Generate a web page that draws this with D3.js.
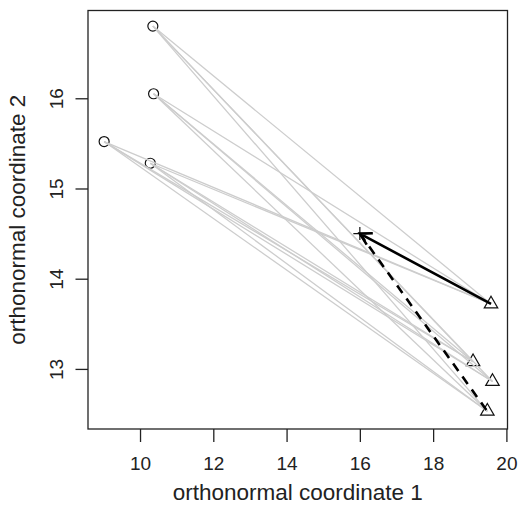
<!DOCTYPE html>
<html>
<head>
<meta charset="utf-8">
<script src="https://cdn.jsdelivr.net/npm/d3@7"></script>
<style>
  html, body { margin: 0; padding: 0; background: #fff; }
  svg { display: block; font-family: "Liberation Sans", Arial, Helvetica, sans-serif; }
</style>
</head>
<body>
<svg id="chart" width="520" height="506"></svg>
<script>
// Group A: starting configurations (circles)
const circleX = [10.35, 10.37, 9.02, 10.28];
const circleY = [16.80, 16.05, 15.52, 15.28];
// Group B: end configurations (triangles)
const triX = [19.58, 19.09, 19.62, 19.48];
const triY = [13.72, 13.08, 12.86, 12.53];
// Reference point (plus)
const plusX = [16.0];
const plusY = [14.50];
// Arrows: solid one points from a triangle to the plus, dashed one runs plus -> triangle
const solidArrowFrom = [0];
const dashedArrowFrom = [3];

const xTicks = [10, 12, 14, 16, 18, 20];
const yTicks = [13, 14, 15, 16];
const xTitle = "orthonormal coordinate 1";
const yTitle = "orthonormal coordinate 2";

const svg = d3.select("#chart");
const L = 88, R = 507.5, T = 10.5, B = 429;

const x = d3.scaleLinear().domain([8.58, 20.03]).range([L, R]);
const y = d3.scaleLinear().domain([12.334, 16.973]).range([B, T]);

// Axes
const xAxis = d3.axisBottom(x).tickValues(xTicks).tickSize(13).tickFormat(d3.format("d"));
const yAxis = d3.axisLeft(y).tickValues(yTicks).tickSize(12.5).tickFormat(d3.format("d"));

const gx = svg.append("g").attr("transform", `translate(0,${B})`).call(xAxis);
gx.select(".domain").remove();
gx.selectAll(".tick line").attr("stroke", "#222").attr("stroke-width", 1.3);
gx.selectAll(".tick text").attr("font-size", 19).attr("fill", "#222")
  .attr("dy", null).attr("y", 41);

const gy = svg.append("g").attr("transform", `translate(${L},0)`).call(yAxis);
gy.select(".domain").remove();
gy.selectAll(".tick line").attr("stroke", "#222").attr("stroke-width", 1.3);
gy.selectAll(".tick text").attr("font-size", 19).attr("fill", "#222")
  .attr("x", null).attr("dy", null)
  .attr("text-anchor", "middle")
  .attr("transform", `translate(${63 - L},0) rotate(-90)`);

// Axis titles
svg.append("text").attr("x", (L + R) / 2).attr("y", 500)
  .attr("text-anchor", "middle").attr("font-size", 22.5).attr("fill", "#222")
  .text(xTitle);
svg.append("text")
  .attr("transform", `translate(25,${(T + B) / 2}) rotate(-90)`)
  .attr("text-anchor", "middle").attr("font-size", 22.5).attr("fill", "#222")
  .text(yTitle);

const circles = circleX.map((v, i) => ({ x: v, y: circleY[i] }));
const tris = triX.map((v, i) => ({ x: v, y: triY[i] }));
const plus = { x: plusX[0], y: plusY[0] };

// Points
const pr = 5;
svg.append("g").selectAll("circle").data(circles).join("circle")
  .attr("cx", d => x(d.x)).attr("cy", d => y(d.y)).attr("r", pr)
  .attr("fill", "none").attr("stroke", "#111").attr("stroke-width", 1.2);

const t0 = 1.5551 * pr, t1 = 1.3468 * pr, t2 = 0.7776 * pr;
svg.append("g").selectAll("path").data(tris).join("path")
  .attr("d", d => {
    const cx = x(d.x), cy = y(d.y);
    return `M${cx},${cy - t0}L${cx + t1},${cy + t2}L${cx - t1},${cy + t2}Z`;
  })
  .attr("fill", "none").attr("stroke", "#111").attr("stroke-width", 1.2);

// Connecting lines from each circle to each triangle
const pairs = [];
circles.forEach(c => tris.forEach(t => pairs.push([c, t])));
svg.append("g").selectAll("line").data(pairs).join("line")
  .attr("x1", d => x(d[0].x)).attr("y1", d => y(d[0].y))
  .attr("x2", d => x(d[1].x)).attr("y2", d => y(d[1].y))
  .attr("stroke", "#cdcdcd").attr("stroke-width", 1.3);

// Plus marker
const ps = 6.5;
svg.append("path")
  .attr("d", `M${x(plus.x) - ps},${y(plus.y)}H${x(plus.x) + ps}M${x(plus.x)},${y(plus.y) - ps}V${y(plus.y) + ps}`)
  .attr("stroke", "#111").attr("stroke-width", 1.2);

// Arrow segments
function arrowPath(from, to, head) {
  const x0 = x(from.x), y0 = y(from.y), x1 = x(to.x), y1 = y(to.y);
  let p = `M${x0},${y0}L${x1},${y1}`;
  if (head) {
    const a = Math.atan2(y0 - y1, x0 - x1), len = 13, sp = Math.PI / 6;
    p += `M${x1 + len * Math.cos(a - sp)},${y1 + len * Math.sin(a - sp)}L${x1},${y1}L${x1 + len * Math.cos(a + sp)},${y1 + len * Math.sin(a + sp)}`;
  }
  return p;
}
solidArrowFrom.forEach(i => {
  svg.append("path").attr("d", arrowPath(tris[i], plus, true))
    .attr("fill", "none").attr("stroke", "#000").attr("stroke-width", 2.6)
    .attr("stroke-linejoin", "miter");
});
dashedArrowFrom.forEach(i => {
  svg.append("path").attr("d", arrowPath(plus, tris[i], false))
    .attr("fill", "none").attr("stroke", "#000").attr("stroke-width", 2.6)
    .attr("stroke-dasharray", "9,7");
});

// Plot frame
svg.append("rect").attr("x", L).attr("y", T).attr("width", R - L).attr("height", B - T)
  .attr("fill", "none").attr("stroke", "#222").attr("stroke-width", 1.3);
</script>
</body>
</html>
